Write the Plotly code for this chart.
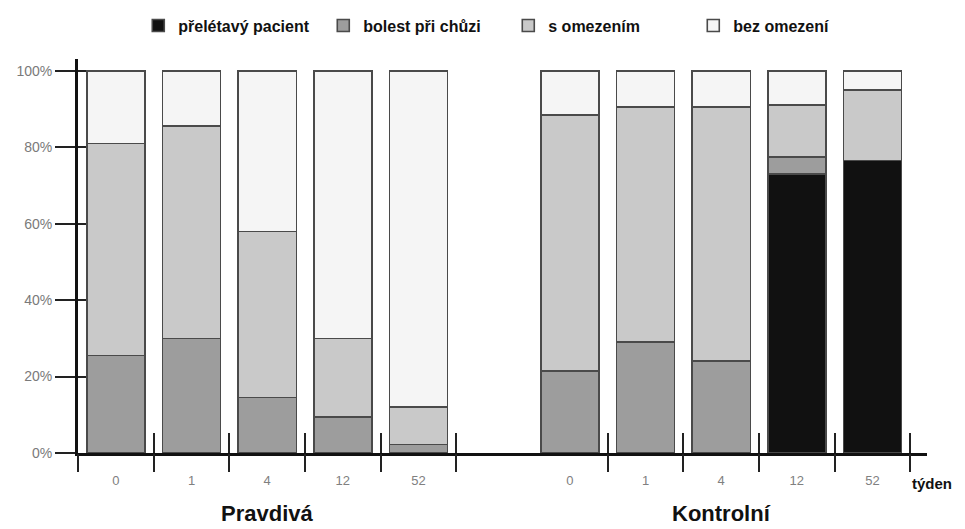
import plotly.graph_objects as go

# ---- data ----
weeks = ["0", "1", "4", "12", "52"]
groups = ["Pravdivá", "Kontrolní"]
series_names = ["přelétavý pacient", "bolest při chůzi", "s omezením", "bez omezení"]
# values in % per bar: Pravdivá 0,1,4,12,52 then Kontrolní 0,1,4,12,52
preletavy = [0, 0, 0, 0, 0, 0, 0, 0, 73, 76.5]
bolest = [25.5, 30, 14.5, 9.5, 2.2, 21.5, 29, 24, 4.5, 0]
s_omezenim = [55.5, 55.5, 43.5, 20.5, 9.8, 67, 61.5, 66.5, 13.5, 18.5]
bez_omezeni = [19, 14.5, 42, 70, 88, 11.5, 9.5, 9.5, 9, 5]
y_tick_vals = [0, 20, 40, 60, 80, 100]
y_tick_text = ["0%", "20%", "40%", "60%", "80%", "100%"]
x_title = "týden"

# ---- layout helpers ----
n_w = len(weeks)
slot_step = n_w + 1  # one empty slot between groups
x_pos = [g * slot_step + i for g in range(len(groups)) for i in range(n_w)]
x_text = [w for g in range(len(groups)) for w in weeks]
boundaries = [-0.5] + [p + 0.5 for p in x_pos]
x_range = [-0.5, x_pos[-1] + 0.72]
y_range = [0, 103.1]

colors = ["#111111", "#9d9d9d", "#c9c9c9", "#f5f5f5"]
values = [preletavy, bolest, s_omezenim, bez_omezeni]

FONT = "Liberation Sans, Arial, sans-serif"

fig = go.Figure()
for name, vals, col in zip(series_names, values, colors):
    fig.add_trace(go.Bar(
        x=x_pos, y=vals, name=name, width=0.77,
        marker=dict(color=col, line=dict(color="#4a4a4a", width=1.6)),
    ))

# invisible anchors so the overlay axes (extra tick marks) get drawn
for xa, ya in [("x2", "y2"), ("x3", "y")]:
    fig.add_trace(go.Scatter(
        x=[x_pos[0]], y=[y_range[0]], xaxis=xa, yaxis=ya, mode="markers",
        marker=dict(opacity=0, size=1), showlegend=False, hoverinfo="skip",
    ))

tick_color = "#222222"
# page body adds an 8px margin, so the figure is 8px smaller than the window
fig.update_layout(
    barmode="stack",
    width=957, height=521,
    margin=dict(l=70, r=38, t=51, b=76, autoexpand=False),
    paper_bgcolor="white", plot_bgcolor="white",
    font=dict(family=FONT),
    showlegend=True,
    legend=dict(
        orientation="h", x=0.071, xanchor="left", y=1.128, yanchor="top",
        traceorder="normal",
        entrywidth=140, entrywidthmode="pixels",
        font=dict(size=16, color="#111111", family=FONT, weight="bold"),
        itemclick=False, itemdoubleclick=False, bgcolor="rgba(0,0,0,0)",
    ),
    xaxis=dict(
        range=x_range, tickmode="array", tickvals=x_pos, ticktext=x_text,
        ticks="", showline=True, linewidth=3, linecolor="#111111",
        showgrid=False, zeroline=False, ticklabelstandoff=13,
        tickfont=dict(family=FONT, size=13, color="#808080"),
    ),
    xaxis2=dict(
        range=x_range, overlaying="x", anchor="y", tickmode="array", tickvals=boundaries,
        ticks="outside", ticklen=18, tickwidth=2, tickcolor=tick_color,
        showticklabels=False, showline=False, showgrid=False, zeroline=False,
    ),
    xaxis3=dict(
        range=x_range, overlaying="x", anchor="y", tickmode="array", tickvals=boundaries,
        ticks="inside", ticklen=20, tickwidth=2, tickcolor=tick_color,
        showticklabels=False, showline=False, showgrid=False, zeroline=False,
    ),
    yaxis=dict(
        range=y_range, tickmode="array", tickvals=y_tick_vals, ticktext=y_tick_text,
        ticks="outside", ticklen=20, tickwidth=2, tickcolor=tick_color,
        showline=True, linewidth=3, linecolor="#111111", showgrid=False, zeroline=False,
        tickfont=dict(family=FONT, size=14, color="#7a7a7a"),
    ),
    yaxis2=dict(
        range=y_range, overlaying="y", anchor="x", tickmode="array", tickvals=y_tick_vals,
        ticks="inside", ticklen=8, tickwidth=2, tickcolor=tick_color,
        showticklabels=False, showline=False, showgrid=False, zeroline=False,
    ),
)

annotations = []
for g, gname in enumerate(groups):
    center = x_pos[g * n_w + n_w // 2]
    annotations.append(dict(
        x=center, xref="x", y=-0.188, yref="paper", text=gname, showarrow=False,
        xanchor="center", yanchor="bottom", borderpad=0,
        font=dict(size=22, color="#111111", family=FONT, weight="bold"),
    ))
annotations.append(dict(
    x=1.031, xref="paper", y=-0.077, yref="paper", text=x_title, showarrow=False,
    xanchor="right", yanchor="middle", borderpad=0,
    font=dict(size=15, color="#111111", family=FONT, weight="bold"),
))
fig.update_layout(annotations=annotations)

fig.write_html("out.html")
